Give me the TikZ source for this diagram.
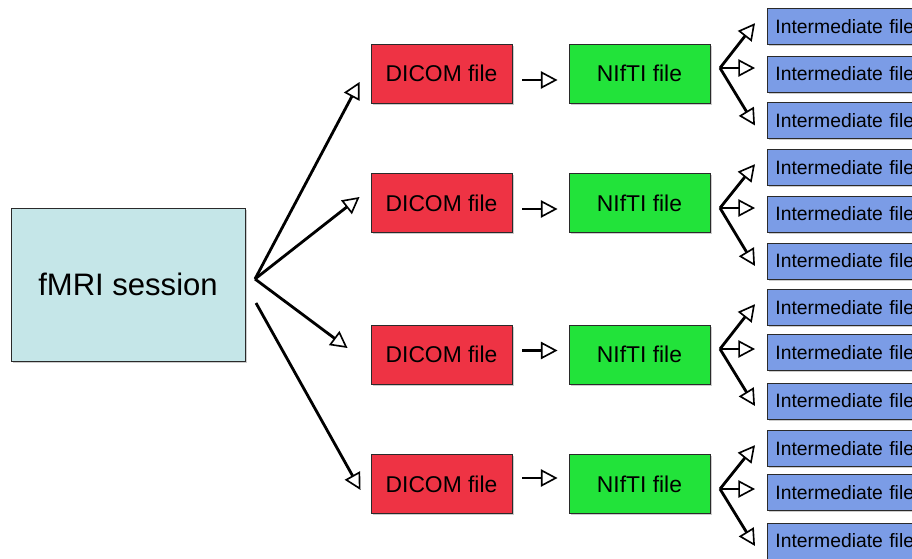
\documentclass[tikz,border=0pt]{standalone}
\usepackage{fontspec}
\setmainfont{Liberation Sans}
\usetikzlibrary{arrows.meta,shadows}
\definecolor{sesCyan}{HTML}{C5E6E8}
\definecolor{dcmRed}{HTML}{EE3344}
\definecolor{nifGreen}{HTML}{22E33A}
\definecolor{intBlue}{HTML}{7B9CE6}
\definecolor{boxLine}{HTML}{2A2A2A}
\tikzset{
  box/.style={
    rectangle,
    draw=boxLine,
    line width=0.8pt,
    align=center,
    drop shadow={shadow xshift=0.05cm, shadow yshift=-0.05cm, fill=black!40}
  },
  sessionbox/.style={box, fill=sesCyan, minimum width=7.02cm, minimum height=4.59cm,
    font=\fontsize{26.5}{30}\selectfont},
  dicombox/.style={box, fill=dcmRed, minimum width=4.23cm, minimum height=1.77cm,
    font=\fontsize{19.5}{23}\selectfont},
  niftibox/.style={box, fill=nifGreen, minimum width=4.23cm, minimum height=1.77cm,
    font=\fontsize{19.5}{23}\selectfont},
  interbox/.style={box, fill=intBlue, anchor=west, align=left, text width=4.4cm,
    inner xsep=0.24cm, minimum height=1.08cm, font=\fontsize{16.5}{19}\selectfont},
  arrow/.style={-{Triangle[open, length=0.5cm, width=0.52cm, line width=1.4pt]},
    line width=2.4pt, draw=black}
}
\begin{document}
\begin{tikzpicture}[x=0.03cm, y=-0.03cm]
  \useasboundingbox (0,0) rectangle (912,559);
  \clip (0,0) rectangle (912,559);
  \node[sessionbox] (session) at (128,284.5) {fMRI session};
  \coordinate (split) at (255,279);
  \coordinate (splitlow) at (256,303);
  % one row per DICOM series
  \foreach \r/\y/\f/\ia/\ib/\ic/\o in {1/73.5/68/26.5/74/120.5/-0.195,
      2/203/208/167.5/214/261/-0.18,
      3/354.5/349/307.5/352.5/401/0.12,
      4/484/489/448.5/492.5/541/0.18} {
    \node[dicombox] (dicom\r) at (441.5,\y) {DICOM file};
    \node[niftibox] (nifti\r) at (639.5,\y) {NIfTI file};
    \node[interbox] (inter\r a) at (767,\ia) {Intermediate file};
    \node[interbox] (inter\r b) at (767,\ib) {Intermediate file};
    \node[interbox] (inter\r c) at (767,\ic) {Intermediate file};
    \coordinate (fork\r) at (720,\f);
    \draw[arrow, shorten <=0.3cm, shorten >=0.33cm]
      ([yshift=\o cm]dicom\r.east) -- ([yshift=\o cm]nifti\r.west);
    \draw[arrow] (fork\r) -- ([xshift=-0.36cm, yshift=0.1cm]inter\r a.west);
    \draw[arrow, shorten >=0.36cm] (fork\r) -- (fork\r -| inter\r b.west);
    \draw[arrow] (fork\r) -- ([xshift=-0.36cm, yshift=-0.15cm]inter\r c.west);
  }
  \draw[arrow] (split) -- ([xshift=-0.33cm, yshift=-0.255cm]dicom1.west);
  \draw[arrow] (split) -- ([xshift=-0.33cm, yshift=0.18cm]dicom2.west);
  \draw[arrow] (split) -- ([xshift=-0.69cm, yshift=0.195cm]dicom3.west);
  \draw[arrow] (splitlow) -- ([xshift=-0.3cm, yshift=-0.18cm]dicom4.west);
\end{tikzpicture}
\end{document}
